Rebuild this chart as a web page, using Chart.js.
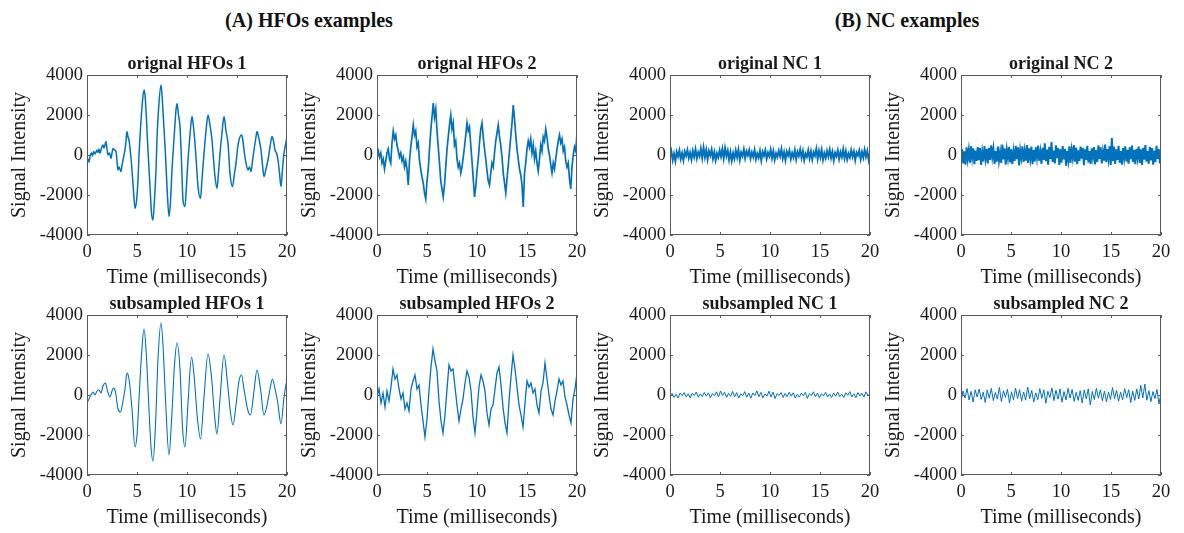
<!DOCTYPE html>
<html>
<head>
<meta charset="utf-8">
<script src="https://cdn.jsdelivr.net/npm/chart.js@4.4.1/dist/chart.umd.min.js"></script>
<style>
  body { margin: 0; background: #fff; }
  #fig { position: relative; width: 1184px; height: 533px; overflow: hidden; background: #fff; }
  #fig canvas { position: absolute; }
  .head { position: absolute; top: 9px; transform: translateX(-50%); font: bold 20px "Liberation Serif", "Times New Roman", serif; color: #111; white-space: nowrap; }
</style>
</head>
<body>
<div id="fig">
  <div class="head" style="left:309px">(A) HFOs examples</div>
  <div class="head" style="left:907px">(B) NC examples</div>
</div>
<script>
// ---- data (time in ms, signal in a.u.) ----
const hfo1Time = [0.0, 0.1, 0.2, 0.3, 0.45, 0.55, 0.65, 0.8, 1.0, 1.1, 1.2, 1.3, 1.45, 1.6, 1.7, 1.9, 2.0, 2.1, 2.25, 2.4,
  2.5, 2.6, 2.75, 2.9, 3.0, 3.1, 3.2, 3.4, 3.5, 3.6, 3.7, 3.8, 3.9, 4.0, 4.1, 4.2, 4.35, 4.5, 4.65, 4.8,
  4.95, 5.1, 5.2, 5.3, 5.5, 5.7, 5.8, 5.95, 6.1, 6.3, 6.45, 6.6, 6.75, 6.9, 7.0, 7.15, 7.4, 7.5, 7.65, 7.85,
  8.0, 8.2, 8.35, 8.5, 8.7, 8.9, 9.0, 9.15, 9.3, 9.45, 9.6, 9.8, 9.95, 10.1, 10.3, 10.5, 10.65, 10.8, 10.95, 11.1,
  11.35, 11.5, 11.7, 11.9, 12.1, 12.3, 12.5, 12.65, 12.8, 13.0, 13.15, 13.3, 13.5, 13.7, 13.9, 14.1, 14.3, 14.55, 14.75, 14.9,
  15.05, 15.2, 15.45, 15.55, 15.7, 15.9, 16.1, 16.25, 16.4, 16.55, 16.7, 16.9, 17.0, 17.2, 17.4, 17.55, 17.7, 17.9, 18.1, 18.3,
  18.5, 18.65, 18.8, 18.95, 19.1, 19.25, 19.4, 19.55, 19.7, 19.85, 20.0];
const hfo1Orig = [-500, -200, -350, -80, 100, -50, 170, 50, 250, 120, 300, 80, 350, 500, 350, 670, 300, 0, 100, -170,
  100, 330, 250, 170, -300, -750, -600, -830, -500, -250, 0, 250, 700, 1170, 900, 750, 100, -750, -1800, -2670,
  -2300, -1250, 0, 920, 2400, 3250, 3000, 1750, 200, -1580, -2900, -3250, -2200, -750, 800, 2250, 3500, 3000, 1750, 0,
  -1580, -3080, -2300, -750, 800, 2250, 2580, 2000, 1420, -300, -2250, -2580, -1500, -250, 1000, 1920, 1400, 580, -500, -1580,
  -2170, -1200, 80, 1200, 2000, 1500, 750, -200, -1080, -1670, -900, 80, 1100, 1920, 1200, 580, -920, -1580, -900, -420,
  300, 750, 1000, 850, 250, -400, -750, -600, -830, -300, 250, 900, 1170, 800, 250, -500, -1080, -700, -250, 400,
  920, 700, 250, 100, -250, -900, -1580, -700, 80, 500, 920];

const hfo1SubTime = [0.0, 0.2, 0.4, 0.6, 0.8, 1.0, 1.2, 1.4, 1.6, 1.85, 2.05, 2.3, 2.5, 2.65, 2.85, 3.1, 3.35, 3.6, 3.8, 4.0,
  4.2, 4.5, 4.8, 5.0, 5.2, 5.45, 5.7, 5.9, 6.15, 6.4, 6.6, 6.85, 7.1, 7.4, 7.6, 7.85, 8.2, 8.45, 8.75, 9.0,
  9.3, 9.55, 9.8, 10.1, 10.45, 10.7, 11.05, 11.35, 11.7, 12.1, 12.45, 12.75, 13.0, 13.3, 13.7, 14.05, 14.35, 14.6, 14.9, 15.2,
  15.45, 15.7, 16.05, 16.35, 16.7, 17.0, 17.35, 17.7, 18.05, 18.3, 18.55, 18.8, 19.05, 19.4, 19.7, 20.0];
const hfo1Sub = [-400, -200, 0, 150, 0, 200, 250, 100, 450, 600, 200, -100, 200, 350, 150, -700, -850, -300, 300, 1100,
  800, -700, -2600, -2000, -200, 2000, 3300, 2300, -200, -2600, -3300, -1500, 1800, 3600, 2500, -200, -3000, -1300, 1500, 2600,
  1300, -1600, -2600, -400, 1900, 1000, -1200, -2200, -100, 2050, 900, -1000, -1950, -200, 2000, 600, -900, -1500, -500, 700,
  1000, 300, -700, -1000, 200, 1250, 300, -1000, -400, 300, 800, 300, -300, -1450, -100, 800];

// evenly sampled traces (0 to 20 ms)
const hfo2Orig = [0, 200, -100, 100, -400, -200, -700, -300, 100, 300, -200, -400, 600, 1200, 800, 1000,
  500, 200, -100, 100, -300, -100, -600, -300, -700, -1500, -300, 400, 900, 1500, 1000, 1200,
  400, 600, -300, -700, -1100, -1400, -1900, -2200, -1300, -700, 300, 1200, 1900, 2600, 1900, 2300,
  1200, 400, -400, -1300, -1700, -2100, -1500, -600, 300, 900, 1500, 2000, 1300, 1600, 500, 700,
  -200, -600, -400, -900, -600, -100, 400, 1000, 1600, 1200, 1400, 500, -300, -1200, -2100, -1600,
  -800, -200, 600, 1300, 1600, 900, 300, -200, -800, -1300, -1500, -900, -400, -600, 100, 700,
  1100, 1500, 900, 500, -100, -900, -1400, -1900, -1200, -500, 200, 900, 1600, 2500, 1800, 1000,
  300, -200, -700, -1000, -1500, -2600, -900, -400, 300, 700, 400, 800, 100, 500, -200, 200,
  -400, -800, -200, 500, 200, 900, 700, 1300, 900, 300, 0, -500, -900, -400, -700, -200,
  300, 700, 1000, 600, 800, 200, 400, -300, -600, -400, -1200, -1700, -600, 0, 400, 200, 1100];
const hfo2Sub = [-100, 300, -400, 100, -600, 200, -300, 400, 1300, 800, 1000, 300, -200, 100, -700, -400, -800, 300, 700, 1000,
  300, 500, -500, -1300, -2100, -1200, 200, 1400, 2300, 1700, 1200, -300, -1300, -1900, -1000, 300, 1500, 1200, 1300, 400,
  -500, -1300, -700, -200, 600, 1200, 900, 200, -1100, -1900, -800, 400, 1000, 700, 200, -900, -1500, -700, -500, 300,
  1100, 1400, 500, -600, -1400, -1900, -300, 900, 2000, 1300, 400, -500, -1000, -1600, -400, 700, 400, 600, 100, 300,
  -500, -900, 200, 600, 1600, 800, 0, -700, -1000, -300, 200, 800, 500, 700, -100, -500, -1000, -1400, -200, 300, 1100];

const nc1Orig = [-120, 180, -250, 60, -300, 150, -80, 220, -190, 90, -260, 170, -40, 240, -150,
  110, -220, 200, -90, 280, -170, 130, -60, 310, -140, 360, -100, 250, -210, 190,
  -30, 270, -180, 140, -260, 80, -120, 230, -70, 300, -160, 340, -50, 210, -230,
  150, -280, 90, -190, 220, -110, 260, -240, 120, -60, 280, -150, 180, -20, 240,
  -170, 130, -90, 250, -200, 70, -130, 200, -260, 160, -40, 230, -180, 110, -70,
  260, -150, 190, -230, 80, -100, 210, -60, 290, -170, 140, -250, 170, -30, 220,
  -190, 100, -120, 240, -210, 150, -50, 270, -140, 190, -260, 60, -90, 230, -160,
  180, -220, 130, -40, 310, -180, 210, -110, 250, -230, 90, -150, 200, -70, 260,
  -140, 160, -270, 110, -60, 230, -190, 140, -100, 280, -160, 190, -220, 70, -120,
  240, -80, 170, -250, 120, -30, 220, -200, 150, -130, 260, -90, 190, -240, 100];
const nc2Orig = [-350, 300, -420, 180, -480, 380, -200, 260, -380, 440, -150, 330, -460, 220, -300,
  400, -260, 350, -500, 150, -320, 450, -180, 290, -420, 360, -240, 480, -100, 310,
  -450, 200, -330, 420, -280, 150, -400, 520, -220, 340, -480, 260, -160, 410, -370,
  280, -450, 180, -300, 460, -210, 380, -520, 250, -140, 430, -350, 200, -280, 500,
  -400, 330, -180, 420, -460, 240, -320, 380, -130, 470, -290, 160, -440, 360, -250,
  580, -310, 270, -480, 400, -200, 650, -350, 220, -420, 480, -160, 340, -500, 280,
  -380, 450, -220, 310, -540, 190, -260, 430, -400, 260, -150, 500, -330, 370, -460,
  230, -290, 420, -180, 360, -510, 280, -240, 460, -370, 190, -450, 330, -120, 400,
  -470, 250, -340, 480, -200, 380, -420, 170, -280, 520, -360, 300, -190, 440, -500,
  850, -300, 420, -450, 280, -250, 460, -380, 200, -480, 350, -160, 430, -320, 260,
  -430, 380, -210, 470, -350, 240, -460, 310, -140, 420, -390, 280, -500, 360, -230,
  500, -330, 190, -440, 410, -270, 350, -480, 220, -360, 460, -200, 300, -420, 150];
const nc1Sub = [-50, 80, -120, 40, -150, 100, -30, 120, -90, 60,
  -140, 90, -20, 150, -110, 50, -80, 130, -60, 110,
  -130, 70, -40, 160, -100, 200, -20, 140, -120, 80,
  -70, 180, -90, 120, -150, 60, -40, 170, -110, 90,
  -160, 100, -30, 210, -80, 130, -140, 50, -60, 190,
  -100, 150, -180, 70, -20, 120, -130, 80, -90, 140,
  -60, 110, -150, 40, -110, 90, -40, 130, -170, 60,
  -30, 160, -90, 100, -140, 70, -50, 140, -100, 50,
  -120, 90, -60, 150, -80, 40, -130, 110, -20, 170,
  -90, 60, -140, 120, -50, 90, -110, 160, -30, 80];
const nc2Sub = [-300, 200, -150, 320, -250, 180, -350, 260, -100, 300,
  -220, 140, -380, 250, -160, 330, -280, 120, -200, 380,
  -330, 210, -120, 290, -400, 160, -240, 350, -180, 270,
  -310, 150, -260, 400, -190, 230, -350, 110, -230, 320,
  -170, 260, -420, 190, -130, 360, -280, 240, -210, 300,
  -360, 170, -250, 330, -150, 280, -320, 130, -270, 220,
  -400, 250, -190, 310, -500, 180, -230, 340, -160, 260,
  -290, 200, -350, 150, -220, 370, -180, 230, -310, 140,
  -240, 320, -130, 260, -380, 190, -270, 300, -200, 480,
  -150, 550, -260, 220, -330, 170, -180, 280, -450, 100];

const xTicks = [0, 5, 10, 15, 20];
const yTicks = [-4000, -2000, 0, 2000, 4000];

// sampling instants for an evenly sampled 20 ms window
const sampleTimes = n => Array.from({ length: n }, (_, i) => 20 * i / (n - 1));

const panels = [
  { title: 'orignal HFOs 1', t: hfo1Time, v: hfo1Orig, col: 0, row: 0, smooth: true, lw: 1.5 },
  { title: 'orignal HFOs 2', t: sampleTimes(hfo2Orig.length), v: hfo2Orig, col: 1, row: 0, lw: 1.7 },
  { title: 'original NC 1', t: sampleTimes(nc1Orig.length), v: nc1Orig, col: 2, row: 0, lw: 2 },
  { title: 'original NC 2', t: sampleTimes(nc2Orig.length), v: nc2Orig, col: 3, row: 0, lw: 2 },
  { title: 'subsampled HFOs 1', t: hfo1SubTime, v: hfo1Sub, col: 0, row: 1, smooth: true, lw: 1.1 },
  { title: 'subsampled HFOs 2', t: sampleTimes(hfo2Sub.length), v: hfo2Sub, col: 1, row: 1, lw: 1.3 },
  { title: 'subsampled NC 1', t: sampleTimes(nc1Sub.length), v: nc1Sub, col: 2, row: 1, lw: 1 },
  { title: 'subsampled NC 2', t: sampleTimes(nc2Sub.length), v: nc2Sub, col: 3, row: 1, lw: 1 },
];

// ---- layout ----
const colLeft = [87, 377, 670, 961];
const rowTop = [75, 315];
const AXW = 87, PW = 200, PH = 160, TOPH = 35, BOTH = 55, RPAD = 16;
const SERIF = '"Liberation Serif", "Times New Roman", serif';
const INK = '#1a1a1a';

// MATLAB-like box with inward tick marks
const boxTicks = {
  id: 'boxTicks',
  afterDatasetsDraw(chart) {
    const { ctx, chartArea: a, scales: { x, y } } = chart;
    ctx.save();
    ctx.strokeStyle = '#5a5a5a';
    ctx.lineWidth = 1;
    ctx.strokeRect(a.left + 0.5, a.top + 0.5, a.right - a.left - 1, a.bottom - a.top - 1);
    ctx.beginPath();
    xTicks.forEach(v => {
      const px = Math.round(x.getPixelForValue(v)) + 0.5;
      ctx.moveTo(px, a.bottom); ctx.lineTo(px, a.bottom - 3);
      ctx.moveTo(px, a.top); ctx.lineTo(px, a.top + 3);
    });
    yTicks.forEach(v => {
      const py = Math.round(y.getPixelForValue(v)) + 0.5;
      ctx.moveTo(a.left, py); ctx.lineTo(a.left + 3, py);
      ctx.moveTo(a.right, py); ctx.lineTo(a.right - 3, py);
    });
    ctx.stroke();
    ctx.restore();
  }
};

const fig = document.getElementById('fig');
const tickFont = { family: SERIF, size: 18.5 };
const labelFont = { family: SERIF, size: 20 };

panels.forEach(p => {
  const cv = document.createElement('canvas');
  cv.width = AXW + PW + RPAD;
  cv.height = TOPH + PH + BOTH;
  cv.style.left = (colLeft[p.col] - AXW) + 'px';
  cv.style.top = (rowTop[p.row] - TOPH) + 'px';
  fig.appendChild(cv);

  new Chart(cv.getContext('2d'), {
    type: 'line',
    data: {
      datasets: [{
        data: p.t.map((x, i) => ({ x, y: p.v[i] })),
        borderColor: 'rgb(0, 114, 189)',
        borderWidth: p.lw,
        pointRadius: 0,
        cubicInterpolationMode: p.smooth ? 'monotone' : 'default',
        tension: 0,
      }],
    },
    options: {
      responsive: false,
      animation: false,
      events: [],
      layout: { padding: { top: 0, right: RPAD, bottom: 0, left: 0 } },
      plugins: {
        legend: { display: false },
        tooltip: { enabled: false },
        title: {
          display: true,
          fullSize: false,
          text: p.title,
          color: INK,
          font: { family: SERIF, size: 18, weight: 'bold', lineHeight: 1.2 },
          padding: { top: TOPH - 21.6, bottom: 0 },
        },
      },
      scales: {
        x: {
          type: 'linear',
          min: 0, max: 20,
          afterBuildTicks: s => { s.ticks = xTicks.map(value => ({ value })); },
          afterFit: s => { s.height = BOTH; },
          grid: { display: false, drawTicks: false, tickLength: 0 },
          border: { display: false },
          ticks: { color: INK, padding: 6, maxRotation: 0, font: tickFont, callback: v => String(v) },
          title: { display: true, text: 'Time (milliseconds)', color: INK, padding: { top: 0, bottom: 0 }, font: labelFont },
        },
        y: {
          min: -4000, max: 4000,
          afterBuildTicks: s => { s.ticks = yTicks.map(value => ({ value })); },
          afterFit: s => { s.width = AXW; },
          grid: { display: false, drawTicks: false, tickLength: 0 },
          border: { display: false },
          ticks: { color: INK, padding: 4, font: tickFont, callback: v => String(v) },
          title: { display: true, text: 'Signal Intensity', color: INK, padding: { top: 8, bottom: 0 }, font: labelFont },
        },
      },
    },
    plugins: [boxTicks],
  });
});
</script>
</body>
</html>
